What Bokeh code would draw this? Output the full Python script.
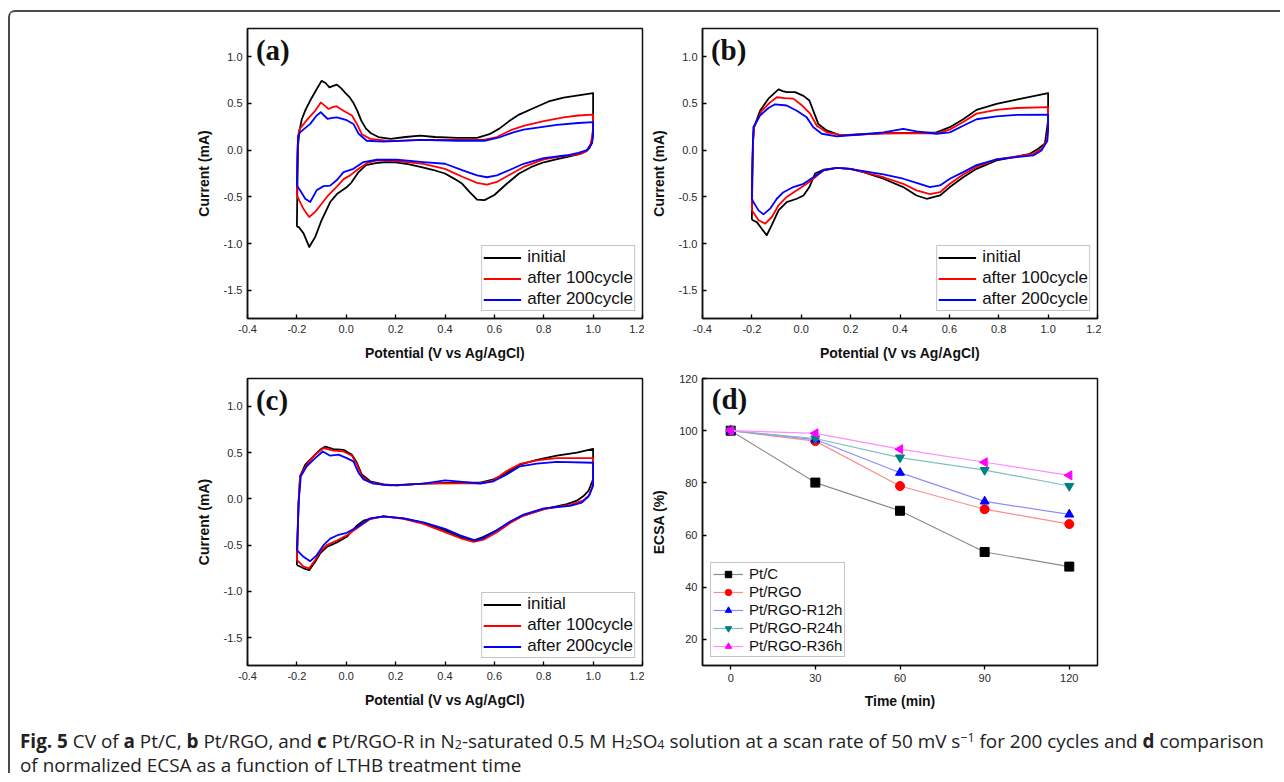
import math
from bokeh.plotting import figure
from bokeh.models import Div, Label, Legend, LegendItem, FixedTicker
from bokeh.layouts import row, column
from bokeh.embed import file_html
from bokeh.resources import INLINE

# ---------------- ticks ----------------
cv_x_ticks = [-0.4, -0.2, 0.0, 0.2, 0.4, 0.6, 0.8, 1.0, 1.2]
cv_x_tick_labels = ["-0.4", "-0.2", "0.0", "0.2", "0.4", "0.6", "0.8", "1.0", "1.2"]
cv_y_ticks = [-1.5, -1.0, -0.5, 0.0, 0.5, 1.0]
cv_y_tick_labels = ["-1.5", "-1.0", "-0.5", "0.0", "0.5", "1.0"]
d_x_ticks = [0, 30, 60, 90, 120]
d_x_tick_labels = ["0", "30", "60", "90", "120"]
d_y_ticks = [20, 40, 60, 80, 100, 120]
d_y_tick_labels = ["20", "40", "60", "80", "100", "120"]

cv_series_names = ["initial", "after 100cycle", "after 200cycle"]
cv_colors = ["#000000", "#ff0000", "#0000ff"]

# ---------------- panel (a) Pt/C : (potential V, current mA) ----------------
a_initial = [(-0.200, -0.82), (-0.198, -0.40), (-0.195, 0.05), (-0.190, 0.20), (-0.180, 0.33),
             (-0.165, 0.43), (-0.146, 0.53), (-0.120, 0.65), (-0.100, 0.74), (-0.085, 0.72),
             (-0.068, 0.67), (-0.050, 0.69), (-0.038, 0.70), (-0.020, 0.66), (0.000, 0.60),
             (0.015, 0.56), (0.030, 0.50), (0.045, 0.42), (0.060, 0.32), (0.080, 0.23),
             (0.100, 0.18), (0.130, 0.14), (0.180, 0.12), (0.240, 0.14), (0.300, 0.155),
             (0.360, 0.14), (0.450, 0.13), (0.530, 0.13), (0.580, 0.17), (0.620, 0.23),
             (0.660, 0.31), (0.700, 0.38), (0.760, 0.45), (0.820, 0.52), (0.880, 0.56),
             (0.940, 0.585), (1.000, 0.61), (1.000, 0.25), (0.995, 0.08), (0.985, 0.02),
             (0.965, -0.02), (0.940, -0.045), (0.900, -0.07), (0.850, -0.10), (0.800, -0.13),
             (0.750, -0.18), (0.700, -0.25), (0.650, -0.36), (0.600, -0.48), (0.560, -0.535),
             (0.530, -0.53), (0.500, -0.45), (0.470, -0.36), (0.440, -0.31), (0.400, -0.25),
             (0.350, -0.21), (0.300, -0.18), (0.250, -0.15), (0.200, -0.13), (0.150, -0.13),
             (0.120, -0.14), (0.080, -0.16), (0.050, -0.235), (0.020, -0.35), (0.000, -0.40),
             (-0.038, -0.47), (-0.065, -0.555), (-0.100, -0.75), (-0.126, -0.93), (-0.150, -1.035),
             (-0.173, -0.89), (-0.193, -0.82), (-0.200, -0.82)]
a_100 = [(-0.200, -0.48), (-0.198, -0.10), (-0.195, 0.15), (-0.190, 0.22), (-0.160, 0.32),
         (-0.126, 0.42), (-0.103, 0.51), (-0.085, 0.47), (-0.072, 0.44), (-0.055, 0.46),
         (-0.040, 0.47), (-0.011, 0.42), (0.023, 0.37), (0.043, 0.28), (0.063, 0.17),
         (0.097, 0.12), (0.178, 0.096), (0.313, 0.11), (0.450, 0.11), (0.556, 0.11),
         (0.610, 0.14), (0.664, 0.21), (0.718, 0.26), (0.800, 0.31), (0.880, 0.35),
         (0.940, 0.37), (1.000, 0.38), (1.000, 0.20), (0.990, 0.07), (0.975, -0.01),
         (0.950, -0.04), (0.920, -0.05), (0.853, -0.075), (0.800, -0.10), (0.718, -0.18),
         (0.664, -0.26), (0.610, -0.34), (0.570, -0.37), (0.530, -0.35), (0.475, -0.29),
         (0.400, -0.20), (0.313, -0.146), (0.205, -0.117), (0.124, -0.11), (0.083, -0.14),
         (0.050, -0.20), (0.016, -0.27), (-0.011, -0.31), (-0.038, -0.39), (-0.072, -0.48),
         (-0.099, -0.57), (-0.126, -0.66), (-0.150, -0.715), (-0.173, -0.63), (-0.190, -0.54),
         (-0.200, -0.48)]
a_200 = [(-0.200, -0.38), (-0.198, -0.05), (-0.195, 0.15), (-0.187, 0.19), (-0.146, 0.28),
         (-0.120, 0.37), (-0.103, 0.405), (-0.090, 0.37), (-0.076, 0.335), (-0.055, 0.345),
         (-0.038, 0.35), (0.002, 0.32), (0.029, 0.28), (0.050, 0.175), (0.083, 0.10),
         (0.151, 0.09), (0.300, 0.11), (0.450, 0.10), (0.560, 0.10), (0.624, 0.14),
         (0.677, 0.19), (0.718, 0.22), (0.853, 0.27), (0.940, 0.29), (1.000, 0.30),
         (1.000, 0.15), (0.995, 0.07), (0.975, 0.00), (0.940, -0.03), (0.894, -0.055),
         (0.800, -0.085), (0.718, -0.146), (0.664, -0.21), (0.610, -0.27), (0.570, -0.29),
         (0.530, -0.27), (0.475, -0.22), (0.400, -0.146), (0.313, -0.128), (0.205, -0.103),
         (0.124, -0.103), (0.070, -0.128), (0.029, -0.20), (-0.011, -0.235), (-0.038, -0.32),
         (-0.065, -0.38), (-0.092, -0.385), (-0.120, -0.43), (-0.146, -0.555), (-0.166, -0.52),
         (-0.187, -0.43), (-0.200, -0.38)]

# ---------------- panel (b) Pt/RGO ----------------
b_initial = [(-0.200, -0.745), (-0.198, -0.30), (-0.195, 0.10), (-0.191, 0.245), (-0.167, 0.42),
             (-0.133, 0.55), (-0.092, 0.65), (-0.075, 0.63), (-0.059, 0.62), (-0.025, 0.62),
             (0.009, 0.58), (0.033, 0.53), (0.049, 0.42), (0.069, 0.28), (0.103, 0.21),
             (0.157, 0.157), (0.225, 0.167), (0.333, 0.18), (0.467, 0.185), (0.548, 0.19),
             (0.602, 0.245), (0.656, 0.33), (0.710, 0.43), (0.791, 0.495), (0.872, 0.54),
             (1.000, 0.61), (1.000, 0.32), (0.987, 0.07), (0.960, 0.015), (0.926, -0.04),
             (0.872, -0.07), (0.791, -0.11), (0.710, -0.20), (0.656, -0.29), (0.602, -0.395),
             (0.562, -0.485), (0.508, -0.52), (0.467, -0.485), (0.413, -0.395), (0.333, -0.306),
             (0.252, -0.235), (0.198, -0.20), (0.144, -0.19), (0.090, -0.21), (0.056, -0.25),
             (0.033, -0.395), (0.009, -0.485), (-0.018, -0.52), (-0.059, -0.555), (-0.092, -0.644),
             (-0.119, -0.80), (-0.140, -0.91), (-0.160, -0.84), (-0.180, -0.77), (-0.200, -0.745)]
b_100 = [(-0.200, -0.644), (-0.198, -0.20), (-0.195, 0.10), (-0.191, 0.245), (-0.160, 0.42),
         (-0.126, 0.51), (-0.099, 0.565), (-0.065, 0.555), (-0.032, 0.55), (0.002, 0.48),
         (0.036, 0.39), (0.063, 0.26), (0.103, 0.19), (0.171, 0.157), (0.333, 0.18),
         (0.467, 0.18), (0.548, 0.18), (0.602, 0.22), (0.656, 0.30), (0.710, 0.39),
         (0.791, 0.43), (0.872, 0.45), (1.000, 0.46), (1.000, 0.25), (0.994, 0.10),
         (0.973, 0.015), (0.940, -0.04), (0.872, -0.068), (0.791, -0.10), (0.710, -0.18),
         (0.656, -0.26), (0.602, -0.36), (0.562, -0.45), (0.521, -0.47), (0.467, -0.43),
         (0.413, -0.36), (0.333, -0.29), (0.252, -0.235), (0.198, -0.20), (0.144, -0.19),
         (0.090, -0.217), (0.049, -0.306), (0.022, -0.36), (-0.018, -0.43), (-0.059, -0.50),
         (-0.092, -0.59), (-0.119, -0.715), (-0.146, -0.786), (-0.173, -0.75), (-0.200, -0.644)]
b_200 = [(-0.200, -0.52), (-0.198, -0.10), (-0.195, 0.15), (-0.194, 0.245), (-0.167, 0.37),
         (-0.133, 0.45), (-0.106, 0.49), (-0.059, 0.477), (-0.018, 0.42), (0.022, 0.35),
         (0.049, 0.245), (0.083, 0.175), (0.144, 0.146), (0.225, 0.164), (0.333, 0.19),
         (0.413, 0.228), (0.467, 0.20), (0.548, 0.175), (0.602, 0.19), (0.656, 0.26),
         (0.710, 0.33), (0.791, 0.36), (0.872, 0.377), (1.000, 0.38), (1.000, 0.22),
         (0.997, 0.10), (0.973, -0.005), (0.940, -0.057), (0.872, -0.075), (0.791, -0.10),
         (0.710, -0.16), (0.656, -0.235), (0.602, -0.306), (0.562, -0.377), (0.521, -0.395),
         (0.467, -0.35), (0.413, -0.306), (0.333, -0.26), (0.252, -0.224), (0.198, -0.20),
         (0.144, -0.19), (0.090, -0.217), (0.049, -0.29), (0.009, -0.36), (-0.032, -0.395),
         (-0.072, -0.45), (-0.099, -0.52), (-0.126, -0.626), (-0.153, -0.687), (-0.173, -0.644),
         (-0.194, -0.555), (-0.200, -0.52)]

# ---------------- panel (c) Pt/RGO-R ----------------
c_initial = [(-0.200, -0.715), (-0.193, -0.04), (-0.187, 0.245), (-0.166, 0.37), (-0.133, 0.46),
             (-0.106, 0.53), (-0.085, 0.565), (-0.052, 0.537), (-0.011, 0.53), (0.023, 0.477),
             (0.043, 0.39), (0.063, 0.263), (0.097, 0.19), (0.151, 0.157), (0.205, 0.146),
             (0.313, 0.164), (0.448, 0.175), (0.543, 0.175), (0.597, 0.21), (0.650, 0.28),
             (0.704, 0.37), (0.772, 0.42), (0.853, 0.466), (0.934, 0.50), (1.000, 0.54),
             (1.000, 0.21), (0.981, 0.085), (0.961, 0.03), (0.934, -0.02), (0.894, -0.057),
             (0.800, -0.11), (0.718, -0.18), (0.664, -0.25), (0.610, -0.34), (0.556, -0.41),
             (0.515, -0.45), (0.461, -0.41), (0.400, -0.34), (0.313, -0.26), (0.232, -0.21),
             (0.151, -0.19), (0.097, -0.217), (0.070, -0.235), (0.043, -0.29), (0.002, -0.41),
             (-0.038, -0.47), (-0.079, -0.52), (-0.106, -0.59), (-0.126, -0.68), (-0.150, -0.77),
             (-0.173, -0.75), (-0.200, -0.715)]
c_100 = [(-0.200, -0.66), (-0.193, -0.04), (-0.187, 0.245), (-0.160, 0.37), (-0.126, 0.477),
         (-0.092, 0.548), (-0.052, 0.52), (-0.011, 0.512), (0.023, 0.466), (0.043, 0.37),
         (0.063, 0.245), (0.097, 0.18), (0.151, 0.15), (0.205, 0.146), (0.313, 0.164),
         (0.448, 0.167), (0.543, 0.167), (0.597, 0.20), (0.650, 0.30), (0.704, 0.377),
         (0.772, 0.416), (0.853, 0.44), (1.000, 0.44), (1.000, 0.157), (0.985, 0.04),
         (0.958, -0.02), (0.907, -0.064), (0.800, -0.11), (0.718, -0.18), (0.664, -0.26),
         (0.610, -0.36), (0.556, -0.44), (0.515, -0.466), (0.461, -0.423), (0.400, -0.36),
         (0.313, -0.27), (0.232, -0.217), (0.151, -0.19), (0.097, -0.217), (0.043, -0.317),
         (0.002, -0.395), (-0.038, -0.45), (-0.079, -0.50), (-0.106, -0.573), (-0.126, -0.66),
         (-0.150, -0.75), (-0.173, -0.733), (-0.200, -0.66)]
c_200 = [(-0.200, -0.555), (-0.193, -0.04), (-0.184, 0.245), (-0.160, 0.352), (-0.126, 0.44),
         (-0.095, 0.512), (-0.065, 0.466), (-0.031, 0.477), (0.002, 0.44), (0.029, 0.405),
         (0.050, 0.28), (0.070, 0.21), (0.110, 0.164), (0.178, 0.146), (0.313, 0.164),
         (0.400, 0.20), (0.461, 0.185), (0.543, 0.164), (0.597, 0.19), (0.650, 0.263),
         (0.704, 0.352), (0.772, 0.38), (0.853, 0.40), (1.000, 0.39), (1.000, 0.14),
         (0.981, 0.025), (0.954, -0.04), (0.907, -0.075), (0.800, -0.103), (0.718, -0.17),
         (0.664, -0.245), (0.610, -0.34), (0.556, -0.423), (0.522, -0.448), (0.461, -0.395),
         (0.400, -0.324), (0.313, -0.253), (0.232, -0.21), (0.151, -0.19), (0.097, -0.21),
         (0.043, -0.306), (0.002, -0.367), (-0.031, -0.388), (-0.065, -0.43), (-0.092, -0.50),
         (-0.120, -0.61), (-0.146, -0.673), (-0.173, -0.626), (-0.193, -0.573), (-0.200, -0.555)]

# ---------------- panel (d) normalized ECSA ----------------
d_time = [0, 30, 60, 90, 120]
d_names = ["Pt/C", "Pt/RGO", "Pt/RGO-R12h", "Pt/RGO-R24h", "Pt/RGO-R36h"]
ecsa_ptc = [100, 80.1, 69.3, 53.5, 47.9]
ecsa_ptrgo = [100, 96.0, 78.8, 69.9, 64.2]
ecsa_r12 = [100, 96.6, 83.9, 72.9, 67.9]
ecsa_r24 = [100, 97.0, 89.7, 84.9, 78.8]
ecsa_r36 = [100, 99.0, 92.9, 87.9, 82.9]
d_marker_colors = ["#000000", "#ff0000", "#0000ff", "#008080", "#ff00ff"]
d_line_colors = ["#8c8c8c", "#ff8c8c", "#8c8cff", "#80c0c0", "#ff8cff"]
d_markers = ["square", "circle", "triangle", "inverted_triangle", "triangle"]
d_angles = [0, 0, 0, 0, math.pi / 2]

caption_html = (
    "<div style=\"line-height:22px;height:22px;\"><b>Fig. 5</b> CV of <b>a</b> Pt/C, <b>b</b> Pt/RGO, "
    "and <b>c</b> Pt/RGO-R in N<span class='sb'>2</span>-saturated 0.5 M H<span class='sb'>2</span>SO"
    "<span class='sb'>4</span> solution at a scan rate of 50 mV s<span class='sp'>\u22121</span> for 200 "
    "cycles and <b>d</b> comparison</div>"
    "<div style=\"line-height:16px;height:16px;margin-top:5px;\">of normalized ECSA as a function of LTHB treatment time</div>"
)

FONT = "Liberation Sans"


def style_axis(ax, ticks, labels, title, tick_in, tick_out, lab_standoff, title_standoff):
    ax.ticker = FixedTicker(ticks=ticks)
    ax.major_label_overrides = {t: l for t, l in zip(ticks, labels)}
    ax.axis_label = title
    ax.axis_label_text_font = FONT
    ax.axis_label_text_font_style = "bold"
    ax.axis_label_text_font_size = "14px"
    ax.axis_label_text_color = "#111111"
    ax.axis_label_standoff = title_standoff
    ax.major_label_text_font = FONT
    ax.major_label_text_font_size = "11px"
    ax.major_label_text_color = "#2a2a2a"
    ax.major_label_standoff = lab_standoff
    ax.major_tick_in = tick_in
    ax.major_tick_out = tick_out
    ax.major_tick_line_width = 1.3
    ax.minor_tick_line_color = None
    ax.axis_line_color = "#111111"
    ax.axis_line_width = 1.5


def base_fig(xr, yr, width, height, mbl, mbr, mbt, mbb):
    p = figure(width=width, height=height, x_range=xr, y_range=yr,
               output_backend="svg", toolbar_location=None,
               min_border_left=mbl, min_border_right=mbr,
               min_border_top=mbt, min_border_bottom=mbb)
    p.grid.visible = False
    p.outline_line_color = "#111111"
    p.outline_line_width = 1.5
    p.outline_line_alpha = 1.0
    p.border_fill_color = "white"
    p.background_fill_color = "white"
    return p


def cv_panel(curves, letter, width, height, mbl, mbr, mbt, mbb):
    p = base_fig((-0.4, 1.2), (-1.8, 1.3), width, height, mbl, mbr, mbt, mbb)
    style_axis(p.xaxis[0], cv_x_ticks, cv_x_tick_labels,
               "Potential (V vs Ag/AgCl)", 4, 0, 6, 9)
    style_axis(p.yaxis[0], cv_y_ticks, cv_y_tick_labels,
               "Current (mA)", 4, 0, 5, 9)
    items = []
    for pts, name, col in zip(curves, cv_series_names, cv_colors):
        r = p.line([q[0] for q in pts], [q[1] for q in pts], line_color=col,
                   line_width=1.8, line_join="round")
        items.append(LegendItem(label=name, renderers=[r]))
    leg = Legend(items=items, location="bottom_right", margin=7, padding=1,
                 spacing=1, glyph_width=38, glyph_height=17, label_height=17,
                 label_standoff=6, label_text_font=FONT, label_text_font_size="17px",
                 label_text_color="#111111",
                 border_line_color="#8a8a8a", border_line_width=1,
                 background_fill_color="white", background_fill_alpha=1.0)
    p.add_layout(leg)
    p.add_layout(Label(x=-0.366, y=1.07, text=letter, text_font="Liberation Serif",
                       text_font_style="bold", text_font_size="29px",
                       text_baseline="middle", text_color="#111111"))
    return p


# layout geometry
W_LEFT, W_RIGHT = 634, 457

pa = cv_panel([a_initial, a_100, a_200], "(a)", W_LEFT, 356, 237, 2, 16, 50)
pb = cv_panel([b_initial, b_100, b_200], "(b)", W_RIGHT, 356, 58, 4, 16, 50)
pc = cv_panel([c_initial, c_100, c_200], "(c)", W_LEFT, 343, 237, 2, 10, 43)

# panel d
pd = base_fig((-10, 130), (10, 120), W_RIGHT, 343, 58, 4, 10, 43)
style_axis(pd.xaxis[0], d_x_ticks, d_x_tick_labels, "Time (min)", 0, 4, 4, 8)
style_axis(pd.yaxis[0], d_y_ticks, d_y_tick_labels, "ECSA (%)", 4, 0, 5, 9)
d_series = [ecsa_ptc, ecsa_ptrgo, ecsa_r12, ecsa_r24, ecsa_r36]
d_items = []
for name, vals, mk, mc, lc, ang in zip(d_names, d_series, d_markers,
                                       d_marker_colors, d_line_colors, d_angles):
    rl = pd.line(d_time, vals, line_color=lc, line_width=1.2)
    rs = pd.scatter(d_time, vals, marker=mk, size=9, angle=ang,
                    fill_color=mc, line_color=mc)
    d_items.append(LegendItem(label=name, renderers=[rl, rs]))
dleg = Legend(items=d_items, location="bottom_left", margin=8, padding=2,
              spacing=1, glyph_width=30, glyph_height=16, label_height=16,
              label_standoff=6, label_text_font=FONT, label_text_font_size="15px",
              label_text_color="#111111",
              border_line_color="#8a8a8a", border_line_width=1,
              background_fill_color="white", background_fill_alpha=1.0)
pd.add_layout(dleg)
pd.add_layout(Label(x=-6.7, y=112.3, text="(d)", text_font="Liberation Serif",
                    text_font_style="bold", text_font_size="29px",
                    text_baseline="middle", text_color="#111111"))

caption = Div(
    text="<style>.sb{font-size:66%;position:relative;top:0.1em;line-height:0;}"
         ".sp{font-size:66%;position:relative;top:-0.45em;line-height:0;}</style>"
         "<div style=\"font-family:'Open Sans';font-size:18.9px;color:#222;white-space:nowrap;"
         "padding:19px 0 0 10px;\">" + caption_html + "</div>",
    width=1266, height=62, margin=0)

layout = column(row(pa, pb), row(pc, pd), caption, width=1272, margin=(10, 0, 0, 8),
                styles={"border-left": "2px solid #4a4a4a", "border-top": "2px solid #4a4a4a",
                        "border-top-left-radius": "7px"})

open("out.html", "w").write(file_html(layout, INLINE))
